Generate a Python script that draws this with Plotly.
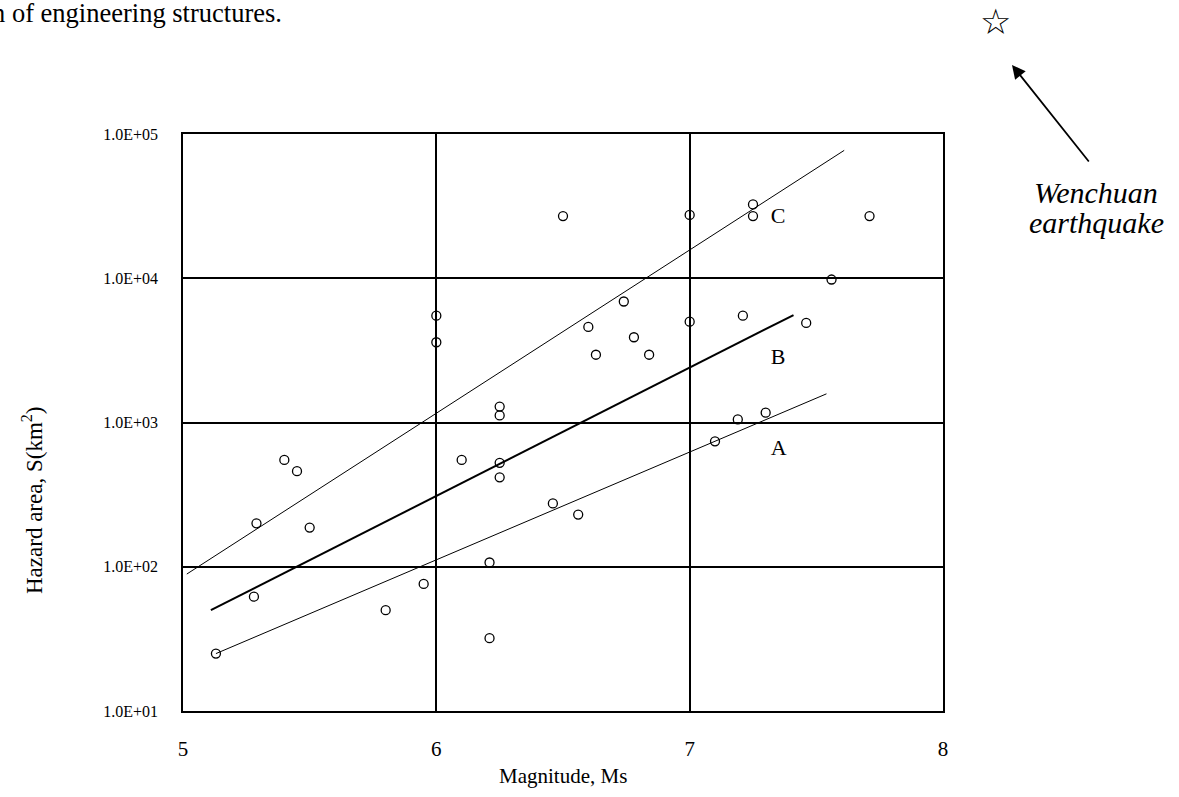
import plotly.graph_objects as go

# Observed earthquakes: magnitude Ms and hazard area S (km^2)
magnitude = [5.13, 5.28, 5.29, 5.40, 5.45, 5.50, 5.80, 5.95, 6.00, 6.00,
             6.10, 6.21, 6.21, 6.25, 6.25, 6.25, 6.25, 6.46, 6.56, 6.50,
             6.60, 6.63, 6.74, 6.78, 6.84, 7.00, 7.00, 7.10, 7.19, 7.21,
             7.25, 7.25, 7.30, 7.46, 7.56, 7.71]
hazard_area = [25, 62, 200, 550, 460, 187, 50, 76, 5500, 3600,
               550, 107, 32, 525, 417, 1290, 1120, 275, 230, 27000,
               4600, 2950, 6900, 3900, 2950, 27500, 5000, 740, 1050, 5500,
               32500, 27000, 1170, 4900, 9800, 27000]

# Regression lines (end points)
line_c_m = [5.015, 7.61]
line_c_s = [89, 77000]
line_b_m = [5.11, 7.41]
line_b_s = [50, 5560]
line_a_m = [5.13, 7.54]
line_a_s = [25, 1580]

line_labels = ["C", "B", "A"]
label_m = [7.32, 7.32, 7.32]
label_s = [26300, 2760, 646]

y_tickvals = [10, 100, 1000, 10000, 100000]
y_ticktext = ["1.0E+01", "1.0E+02", "1.0E+03", "1.0E+04", "1.0E+05"]
x_tickvals = [5, 6, 7, 8]

SERIF = "Liberation Serif"

fig = go.Figure()

for xs, ys, w in [(line_c_m, line_c_s, 1), (line_b_m, line_b_s, 2), (line_a_m, line_a_s, 1)]:
    fig.add_trace(go.Scatter(x=xs, y=ys, mode="lines",
                             line=dict(color="black", width=w), showlegend=False,
                             hoverinfo="skip"))

fig.add_trace(go.Scatter(x=magnitude, y=hazard_area, mode="markers",
                         marker=dict(symbol="circle-open", size=9,
                                     color="black", line=dict(width=1.3, color="black")),
                         showlegend=False))

fig.add_trace(go.Scatter(x=label_m, y=label_s, mode="text", text=line_labels,
                         textposition="middle right",
                         textfont=dict(family=SERIF, size=22, color="black"),
                         showlegend=False, hoverinfo="skip"))

fig.update_layout(
    width=1179, height=797,
    margin=dict(l=183, r=236, t=134, b=86),
    paper_bgcolor="white", plot_bgcolor="white",
    font=dict(family=SERIF, color="black", size=16),
    showlegend=False,
)

fig.update_xaxes(range=[5, 8], tickvals=x_tickvals, ticktext=[str(v) for v in x_tickvals],
                 showgrid=True, gridcolor="black", gridwidth=1.6,
                 showline=True, linecolor="black", linewidth=1.6, mirror=True,
                 zeroline=False, ticks="", ticklabelstandoff=18,
                 tickfont=dict(family=SERIF, size=21))

fig.update_yaxes(type="log", range=[1, 5], tickvals=y_tickvals, ticktext=y_ticktext,
                 showgrid=True, gridcolor="black", gridwidth=1.6,
                 showline=True, linecolor="black", linewidth=1.6, mirror=True,
                 zeroline=False, ticks="", ticklabelstandoff=20,
                 tickfont=dict(family=SERIF, size=16))

H_PLOT = 711 - 134
W_PLOT = 943 - 183


def px_x(x):
    return (x - 183) / W_PLOT


def px_y(y):
    return (711 - y) / H_PLOT


# X-axis title
fig.add_annotation(text="Magnitude, Ms", xref="paper", yref="paper",
                   x=px_x(563), y=px_y(776), xanchor="center", yanchor="middle",
                   showarrow=False, font=dict(family=SERIF, size=21, color="black"))

# Y-axis title (placed as in the reference, below centre)
fig.add_annotation(text="Hazard area, S(km<sup>2</sup>)", xref="paper", yref="paper",
                   x=px_x(32), y=px_y(500), textangle=-90, showarrow=False,
                   font=dict(family=SERIF, size=23, color="black"),
                   xanchor="center", yanchor="middle")

# Top text fragment (left edge cut off as in the reference)
fig.add_annotation(text="n of engineering structures.", xref="paper", yref="paper",
                   x=px_x(284), y=px_y(13), xanchor="right", yanchor="middle",
                   showarrow=False, font=dict(family=SERIF, size=26.5, color="black"))

# Star marker
fig.add_annotation(text="☆", xref="paper", yref="paper",
                   x=px_x(995), y=px_y(22), xanchor="center", yanchor="middle",
                   showarrow=False, font=dict(family="DejaVu Sans", size=35, color="black"))

# Arrow (tail offset in pixels from head)
fig.add_annotation(xref="paper", yref="paper", axref="pixel", ayref="pixel",
                   x=px_x(1012), y=px_y(65),
                   ax=78, ay=98,
                   text="", showarrow=True, arrowhead=2, arrowsize=1.5, arrowwidth=1.8,
                   arrowcolor="black")

fig.add_annotation(text="<i>Wenchuan</i>", xref="paper", yref="paper",
                   x=px_x(1096), y=px_y(192), xanchor="center", yanchor="middle",
                   showarrow=False, font=dict(family=SERIF, size=30, color="black"))
fig.add_annotation(text="<i>earthquake</i>", xref="paper", yref="paper",
                   x=px_x(1096), y=px_y(222), xanchor="center", yanchor="middle",
                   showarrow=False, font=dict(family=SERIF, size=30, color="black"))

fig.write_html("out.html")
